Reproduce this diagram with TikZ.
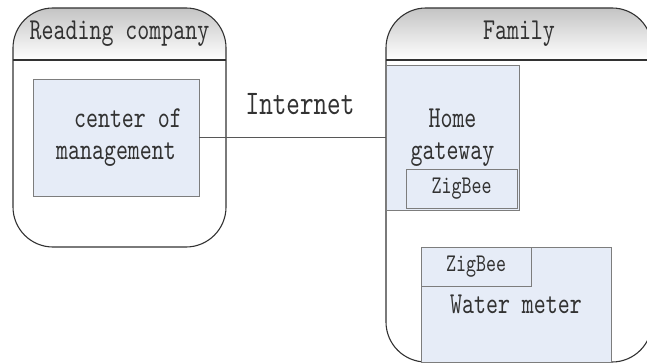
\documentclass[tikz,border=0pt]{standalone}
\usepackage{fontspec}
\newfontfamily\tallmono[FakeStretch=0.75]{lmmono10-regular.otf}
\usetikzlibrary{positioning}
\definecolor{BoxFill}{RGB}{230,236,247}
\definecolor{BoxLine}{RGB}{125,125,125}
\definecolor{HeadTop}{RGB}{196,196,196}
\definecolor{EdgeDark}{RGB}{50,50,50}

\begin{document}
\begin{tikzpicture}[x=1pt, y=-1pt,
    every node/.style={font=\tallmono\fontsize{30.4}{32}\selectfont, inner sep=0pt, text=EdgeDark},
    unit/.style={draw=BoxLine, line width=0.9pt, fill=BoxFill, align=center},
    small/.style={font=\tallmono\fontsize{25.4}{26}\selectfont},
    frame/.style={draw=EdgeDark, line width=1.1pt, rounded corners=40pt}]
    \path[use as bounding box, clip] (0,0) rectangle (647,363);
    % Reading company
    \begin{scope}
        \clip[rounded corners=40pt] (13,8) rectangle (226,247);
        \shade[top color=HeadTop, bottom color=white] (13,8) rectangle (226,60);
    \end{scope}
    \draw[frame] (13,8) rectangle (226,247);
    \draw[EdgeDark, line width=1.1pt] (13,60) -- (226,60);
    \node (company) at (119.5,34) {Reading company};
    % Family
    \begin{scope}
        \clip[rounded corners=40pt] (386,8) rectangle (652,362);
        \shade[top color=HeadTop, bottom color=white] (386,8) rectangle (652,60);
    \end{scope}
    \draw[frame] (386,8) rectangle (652,362);
    \draw[EdgeDark, line width=1.1pt] (386,60) -- (652,60);
    \node (family) at (519,34) {Family};
    % devices
    \node[unit, minimum width=166pt, minimum height=117pt] (mgmt) at (116,137.5) {\hphantom{xx}center of\\management};
    \node[unit, minimum width=133pt, minimum height=145pt] (gw) at (452.5,137.5) {Home\\gateway};
    \node[unit, small, minimum width=111pt, minimum height=39pt] (gwzig) at (461.5,188.5) {ZigBee};
    \node[unit, minimum width=190pt, minimum height=115pt] (meter) at (516,304.5) {Water meter};
    \node[unit, small, minimum width=110pt, minimum height=39pt, anchor=north west] (meterzig) at (meter.north west) {ZigBee};
    % link
    \draw[BoxLine!70!black, line width=0.9pt] (mgmt) -- (gw);
    \node[font=\tallmono\fontsize{34.5}{36}\selectfont] (inet) at (300,104) {Internet};
\end{tikzpicture}
\end{document}
